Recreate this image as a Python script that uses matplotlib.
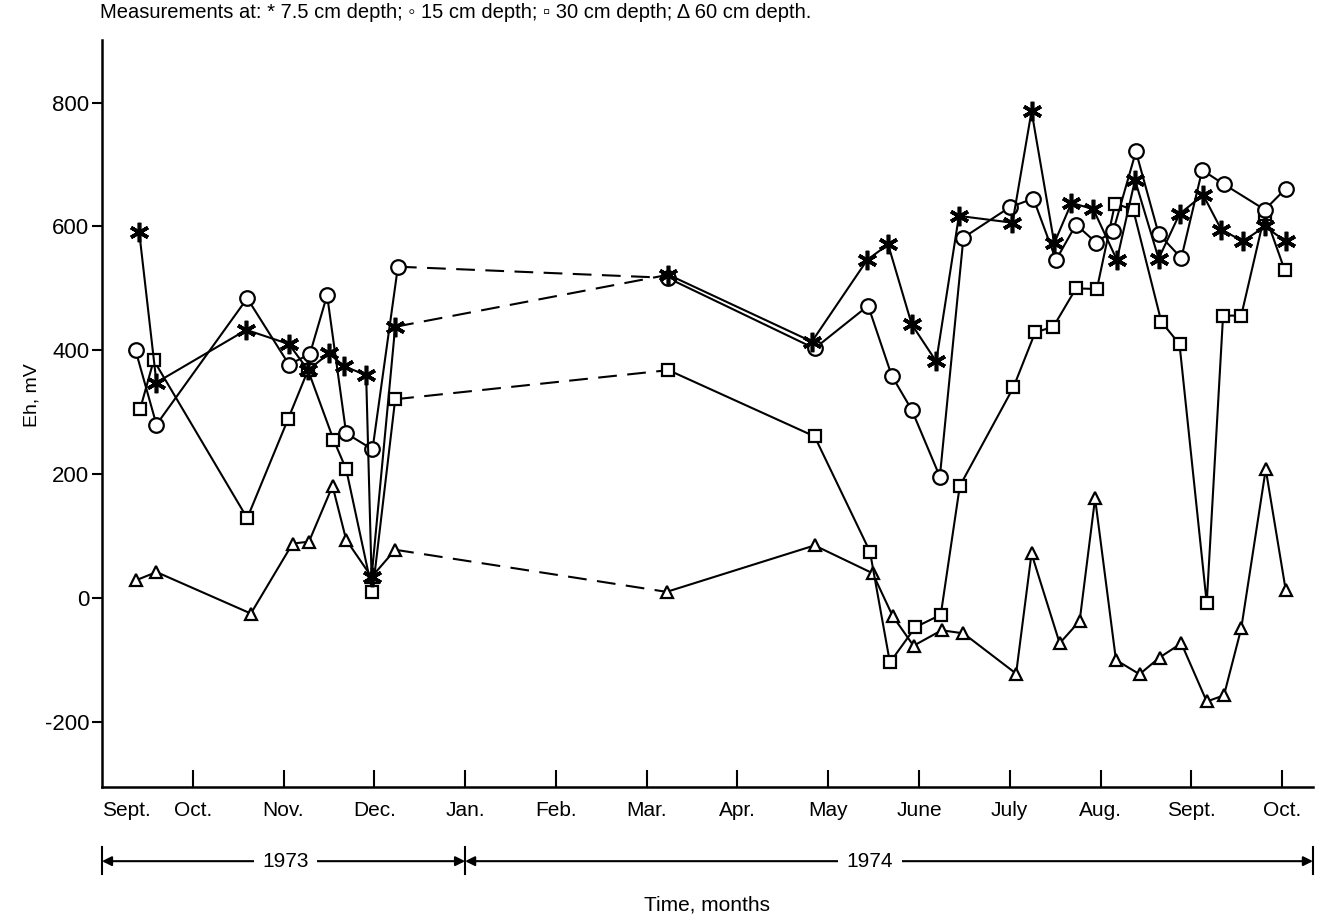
"""Eh readings at four soil depths, Sept. 1973 - Oct. 1974."""

import matplotlib

matplotlib.use("Agg")

import matplotlib.pyplot as plt
from matplotlib.transforms import blended_transform_factory

plt.rcParams["font.family"] = ["Liberation Sans Narrow", "Liberation Sans", "DejaVu Sans"]

# x is months counted from 1 Sept. 1973
month_labels = ["Sept.", "Oct.", "Nov.", "Dec.", "Jan.", "Feb.", "Mar.", "Apr.",
                "May", "June", "July", "Aug.", "Sept.", "Oct."]

star_73_x = [0.41, 0.60, 1.59, 2.06, 2.27, 2.50, 2.67, 2.91, 2.97, 3.23]
star_73_y = [591, 348, 433, 410, 368, 395, 374, 360, 34, 438]
star_74_x = [6.24, 7.82, 8.43, 8.66, 8.92, 9.19, 9.44, 10.03, 10.24, 10.49, 10.68,
             10.92, 11.18, 11.38, 11.64, 11.87, 12.13, 12.33, 12.57, 12.81, 13.04]
star_74_y = [522, 414, 546, 571, 442, 382, 617, 606, 786, 573, 638,
             628, 546, 675, 548, 620, 651, 595, 576, 600, 576]

circle_73_x = [0.37, 0.60, 1.60, 2.06, 2.29, 2.48, 2.69, 2.98, 3.26]
circle_73_y = [400, 280, 484, 377, 394, 489, 266, 240, 535]
circle_74_x = [6.23, 7.85, 8.44, 8.70, 8.92, 9.23, 9.49, 10.00, 10.26, 10.51,
               10.73, 10.95, 11.14, 11.39, 11.64, 11.89, 12.12, 12.36, 12.81, 13.04]
circle_74_y = [517, 403, 472, 359, 304, 196, 582, 631, 645, 546,
               603, 574, 593, 721, 588, 549, 691, 668, 627, 661]

square_73_x = [0.42, 0.57, 1.60, 2.05, 2.27, 2.55, 2.69, 2.98, 3.23]
square_73_y = [305, 384, 129, 289, 368, 256, 208, 10, 321]
square_74_x = [6.24, 7.85, 8.46, 8.68, 8.96, 9.24, 9.45, 10.04, 10.28, 10.48, 10.73,
               10.96, 11.16, 11.36, 11.67, 11.87, 12.17, 12.35, 12.55, 12.81, 13.03]
square_74_y = [368, 261, 75, -104, -47, -27, 181, 340, 429, 438, 500,
               499, 637, 627, 446, 410, -8, 456, 456, 620, 529]

tri_73_x = [0.38, 0.60, 1.64, 2.10, 2.28, 2.54, 2.69, 2.97, 3.23]
tri_73_y = [29, 42, -25, 88, 91, 181, 94, 34, 78]
tri_74_x = [6.22, 7.85, 8.49, 8.71, 8.94, 9.25, 9.49, 10.07, 10.24, 10.55, 10.77,
            10.94, 11.17, 11.43, 11.65, 11.89, 12.17, 12.36, 12.55, 12.82, 13.04]
tri_74_y = [10, 85, 40, -29, -77, -52, -57, -122, 72, -73, -37,
            161, -100, -123, -96, -73, -167, -157, -49, 208, 13]

y_ticks = [800, 600, 400, 200, 0, -200]
X_END = 13.34


def draw_series(ax, x73, y73, x74, y74, marker, size, z):
    style = dict(color="black", lw=1.5, marker=marker, ms=size, mfc="white",
                 mec="black", mew=1.6, zorder=z)
    if marker == (6, 2, 0):
        style["mew"] = 2.6
    ax.plot(x73, y73, **style)
    ax.plot(x74, y74, **style)
    # no readings Jan.-Feb.: bridged with a dashed line
    ax.plot([x73[-1], x74[0]], [y73[-1], y74[0]], color="black", lw=1.5,
            ls=(0, (9, 5)), zorder=z - 0.5)


fig = plt.figure(figsize=(13.21, 9.24), dpi=100)
ax = fig.add_axes([0.0772, 0.1483, 0.9167, 0.8084])

draw_series(ax, tri_73_x, tri_73_y, tri_74_x, tri_74_y, "^", 9, 3)
draw_series(ax, square_73_x, square_73_y, square_74_x, square_74_y, "s", 8.5, 4)
draw_series(ax, circle_73_x, circle_73_y, circle_74_x, circle_74_y, "o", 10.5, 5)
draw_series(ax, star_73_x, star_73_y, star_74_x, star_74_y, (6, 2, 0), 14, 6)

ax.set_xlim(0, X_END)
ax.set_ylim(-305, 901)
for side in ("top", "right"):
    ax.spines[side].set_visible(False)
for side in ("left", "bottom"):
    ax.spines[side].set_linewidth(1.8)

ax.set_yticks(y_ticks)
ax.set_yticklabels([str(v) for v in y_ticks], fontsize=16,
                   family=["Liberation Sans", "DejaVu Sans"])
ax.tick_params(axis="y", direction="out", length=7, width=1.5, pad=2)

ax.set_xticks(range(1, 14))
ax.set_xticklabels(month_labels[1:], fontsize=15)
ax.tick_params(axis="x", direction="in", length=12, width=1.5, pad=10)
# first month sits at the axis corner: label only, no tick mark
ax.set_xticks([0.27], minor=True)
ax.set_xticklabels(month_labels[:1], minor=True, fontsize=15)
ax.tick_params(axis="x", which="minor", direction="in", length=0, pad=10)

fig.text(0.0757, 0.986, "Measurements at: * 7.5 cm depth; \u25e6 15 cm depth; "
         "\u25ab 30 cm depth; \u0394 60 cm depth.", fontsize=14.5, va="center",
         family=["Liberation Sans Narrow", "Liberation Sans", "DejaVu Sans"])

fig.text(0.024, 0.572, "Eh, mV", rotation=90, fontsize=14, va="center", ha="center",
         family=["Liberation Sans", "DejaVu Sans"])
fig.text(0.535, 0.021, "Time, months", fontsize=15, ha="center", va="center")

# year bar under the month labels
trans = blended_transform_factory(ax.transData, fig.transFigure)
y_bar = 0.068
for xb in (0, 4, X_END):
    ax.plot([xb, xb], [0.054, 0.083], transform=trans, color="black", lw=1.5, clip_on=False)
years = [("1973", 0, 4, 2.02), ("1974", 4, X_END, 8.46)]
for label, x0, x1, xc in years:
    for end in (x0, x1):
        ax.annotate("", xy=(end, y_bar), xytext=(xc, y_bar), xycoords=trans, textcoords=trans,
                    arrowprops=dict(arrowstyle="-|>", lw=1.5, color="black", shrinkA=0,
                                    shrinkB=0, mutation_scale=14),
                    annotation_clip=False)
    ax.text(xc, y_bar, label, transform=trans, ha="center", va="center", fontsize=15,
            bbox=dict(facecolor="white", edgecolor="none", pad=6), zorder=10)

fig.savefig("out.png", dpi=100)
